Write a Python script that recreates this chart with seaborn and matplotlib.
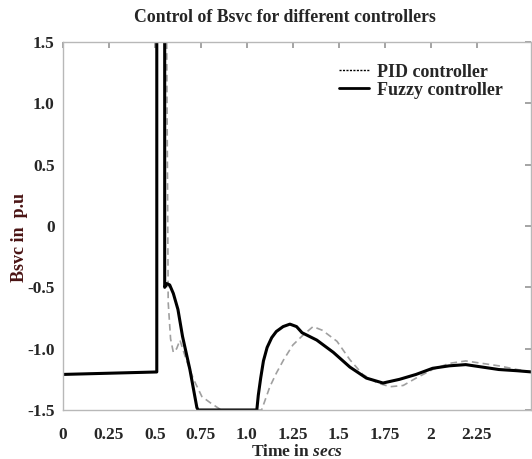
import matplotlib
matplotlib.use("Agg")
import matplotlib.pyplot as plt
import pandas as pd
import seaborn as sns
from matplotlib.lines import Line2D

sns.set_theme(style="white")
plt.rcParams["font.family"] = ["Liberation Serif", "DejaVu Serif"]
plt.rcParams["font.weight"] = "bold"
plt.rcParams["mathtext.fontset"] = "custom"
plt.rcParams["mathtext.it"] = "Liberation Serif:italic:bold"
plt.rcParams["mathtext.rm"] = "Liberation Serif:bold"

# Fuzzy controller response
fuzzy_t = [0.0, 0.51, 0.51, 0.553, 0.553, 0.565, 0.58, 0.60, 0.625, 0.65, 0.69, 0.728, 0.735,
           1.054, 1.062, 1.075, 1.09, 1.11, 1.135, 1.16, 1.197, 1.234, 1.27, 1.30, 1.34,
           1.38, 1.47, 1.56, 1.65, 1.74, 1.83, 1.92, 2.01, 2.10, 2.19, 2.28, 2.37, 2.47, 2.55]
fuzzy_b = [-1.21, -1.19, 2.0, 2.0, -0.50, -0.47, -0.48, -0.55, -0.68, -0.90, -1.17, -1.48, -1.5,
           -1.5, -1.38, -1.24, -1.10, -0.99, -0.91, -0.86, -0.82, -0.80, -0.82, -0.87, -0.90,
           -0.93, -1.03, -1.15, -1.24, -1.28, -1.25, -1.21, -1.16, -1.14, -1.13, -1.15, -1.17, -1.18, -1.19]

# PID controller response
pid_t = [0.0, 0.51, 0.51, 0.562, 0.572, 0.585, 0.60, 0.618, 0.636, 0.67, 0.71, 0.755, 0.80, 0.84,
         0.86, 1.08, 1.125, 1.16, 1.20, 1.25, 1.305, 1.36, 1.41, 1.49, 1.56, 1.63, 1.71, 1.78,
         1.85, 1.92, 2.01, 2.10, 2.19, 2.28, 2.37, 2.47, 2.55]
pid_b = [-1.21, -1.19, 2.0, 2.0, -0.62, -0.92, -1.03, -1.00, -0.93, -1.09, -1.25, -1.39, -1.44,
         -1.48, -1.5, -1.5, -1.31, -1.20, -1.09, -0.97, -0.89, -0.82, -0.85, -0.94, -1.09, -1.21,
         -1.28, -1.31, -1.30, -1.24, -1.17, -1.12, -1.10, -1.12, -1.14, -1.17, -1.19]

x_ticks = [0, 0.25, 0.5, 0.75, 1.0, 1.25, 1.5, 1.75, 2.0, 2.25]
x_labels = ["0", "0.25", "0.5", "0.75", "1.0", "1.25", "1.5", "1.75", "2", "2.25"]
y_ticks = [-1.5, -1.0, -0.5, 0, 0.5, 1.0, 1.5]
y_labels = ["-1.5", "-1.0", "-0.5", "0", "0.5", "1.0", "1.5"]

pid_df = pd.DataFrame({"t": pid_t, "b": pid_b})
fuzzy_df = pd.DataFrame({"t": fuzzy_t, "b": fuzzy_b})

fig = plt.figure(figsize=(5.32, 4.59), dpi=100)
ax = fig.add_axes([63 / 532, 1 - 410 / 459, 468 / 532, 368 / 459])

sns.lineplot(data=pid_df, x="t", y="b", ax=ax, sort=False, estimator=None,
             color="#a0a0a0", linewidth=1.2, linestyle=(0, (4, 2.5)))
sns.lineplot(data=fuzzy_df, x="t", y="b", ax=ax, sort=False, estimator=None,
             color="black", linewidth=2.2)

ax.set_xlim(0, 2.545)
ax.set_ylim(-1.5, 1.5)
ax.set_xticks(x_ticks)
ax.set_xticklabels(x_labels)
ax.set_yticks(y_ticks)
ax.set_yticklabels(y_labels)
ax.tick_params(axis="both", direction="in", length=4, color="#999999",
               labelsize=12.5, top=True, right=True)
ax.tick_params(axis="x", pad=12)
ax.tick_params(axis="y", pad=6)
for lab in ax.get_xticklabels() + ax.get_yticklabels():
    lab.set_fontweight("bold")
for sp in ax.spines.values():
    sp.set_color("#b8b8b8")
    sp.set_linewidth(1.0)

ax.set_xlabel(r"Time in $\mathit{secs}$", fontsize=12.5, fontweight="bold", labelpad=1)
ax.set_ylabel("Bsvc in  p.u", fontsize=13, fontweight="bold", color="#4a1414")
ax.yaxis.set_label_coords(-0.075, 0.47)
fig.text(285 / 532, 1 - 17 / 459, "Control of Bsvc for different controllers",
         ha="center", va="center", fontsize=12.8, fontweight="bold")

handles = [Line2D([], [], color="black", linewidth=1.0, linestyle=(0, (1.5, 1))),
           Line2D([], [], color="black", linewidth=2.0)]
ax.legend(handles, ["PID controller", "Fuzzy controller"], loc="upper left",
          bbox_to_anchor=((323 - 63) / 468, 0.985), frameon=False, handlelength=1.65,
          handletextpad=0.45, labelspacing=0.05, prop={"weight": "bold", "size": 13})

fig.savefig("out.png", dpi=100)
